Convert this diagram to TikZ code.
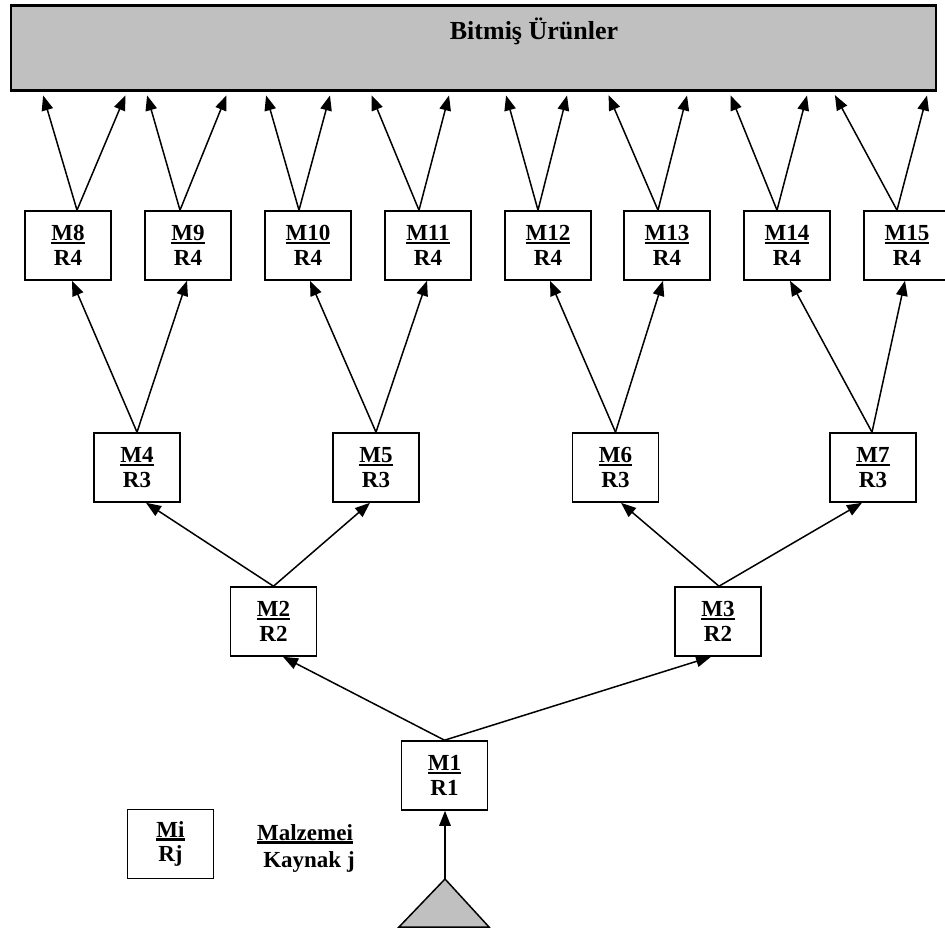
\documentclass[tikz,border=0pt]{standalone}
\usepackage{fontspec}
\setmainfont{Liberation Serif}
\usetikzlibrary{arrows.meta}

\definecolor{panel}{HTML}{C0C0C0}

% thick underline under a label
\newcommand\ulbar[1]{\setbox0\hbox{#1}\rlap{\rule[-3.6pt]{\wd0}{2.5pt}}\box0}

\tikzset{
  mbox/.style={draw, line width=1.6pt, minimum width=86pt, minimum height=69pt,
    inner sep=0pt, align=center, fill=white,
    font=\fontsize{23}{24.5}\selectfont\bfseries},
  arr/.style={line width=1.5pt, -{Triangle[length=15pt,width=11.5pt]}},
  banner/.style={draw, line width=2.2pt, fill=panel, minimum width=925pt,
    minimum height=85pt, inner sep=0pt},
}

\begin{document}
\begin{tikzpicture}[x=1pt,y=-1pt]
\useasboundingbox (0,0) rectangle (945,931);

% finished products panel
\node[banner] (fp) at (473.2,48) {};
\node[font=\fontsize{26}{28}\selectfont\bfseries] (fptext) at (534,31) {Bitmiş Ürünler};

% level 4 machines
\foreach \n/\x in {8/68,9/188,10/308,11/428,12/548,13/667,14/787,15/907}
  \node[mbox] (M\n) at (\x,245.5) {\ulbar{M\n}\\R4};

% level 3 machines
\foreach \n/\x in {4/137,5/376,6/615.5,7/873}
  \node[mbox] (M\n) at (\x,467.5) {\ulbar{M\n}\\R3};

% level 2 machines
\node[mbox] (M2) at (273.5,621.5) {\ulbar{M2}\\R2};
\node[mbox] (M3) at (718,621.5) {\ulbar{M3}\\R2};

% level 1 machine
\node[mbox] (M1) at (444.5,775.5) {\ulbar{M1}\\R1};

% raw material source
\coordinate (apex) at (445,879);
\coordinate (baseR) at (489,927);
\coordinate (baseL) at (399,927);
\draw[line width=1.5pt, fill=panel] (apex) -- (baseR) -- (baseL) -- cycle;
\draw[arr] (apex) -- ([xshift=0.5pt]M1.south);

% legend
\node[mbox] (leg) at (170.5,844) {\ulbar{Mi}\\Rj};
\node[align=center, inner sep=0pt, font=\fontsize{23}{27}\selectfont\bfseries]
  (legtext) at (305,848) {\ulbar{Malzemei}\\\hspace*{8pt}Kaynak j};

% material flow between levels
\foreach \s/\so/\d/\do in {
    1/0/2/9.5, 1/0/3/-7,
    2/0/4/9, 2/0/5/-6,
    3/1/6/5.5, 3/1/7/-11,
    4/0/8/4, 4/0/9/-1,
    5/0/10/2, 5/0/11/-1,
    6/0/12/2, 6/0/13/-4,
    7/-1/14/3, 7/-1/15/-2}
  \draw[arr] ([xshift=\so pt]M\s.north) -- ([xshift=\do pt]M\d.south);

% delivery to finished products
\foreach \n/\o/\a/\b in {
    8/9/42/127, 9/-8/146/228, 10/-9/265/331, 11/-9/370/450,
    12/-10/505/568, 13/-9/607/688, 14/-10/729/808, 15/-10/833/928}
{
  \draw[arr, shorten >=4pt] ([xshift=\o pt]M\n.north) -- (fp.south -| \a,0);
  \draw[arr, shorten >=4pt] ([xshift=\o pt]M\n.north) -- (fp.south -| \b,0);
}
\end{tikzpicture}
\end{document}
